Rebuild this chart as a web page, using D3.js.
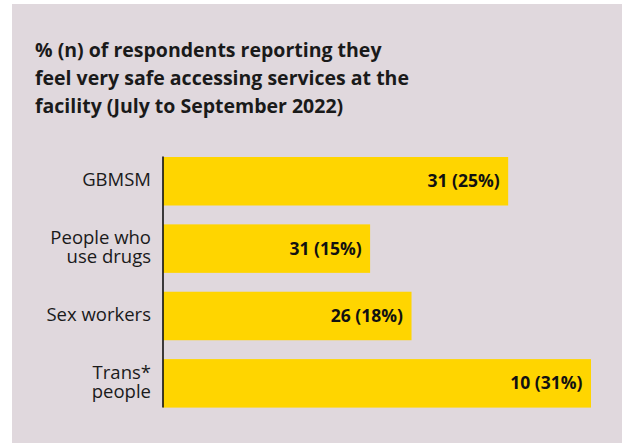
<!DOCTYPE html>
<html>
<head>
<meta charset="utf-8">
<script src="https://cdn.jsdelivr.net/npm/d3@7"></script>
<style>
  html, body { margin: 0; padding: 0; background: #ffffff; }
  svg { display: block; }
</style>
</head>
<body>
<svg id="chart" width="622" height="443"></svg>
<script>
// Respondent groups and results
const categories = ["GBMSM", "People who\nuse drugs", "Sex workers", "Trans*\npeople"];
const counts = [31, 31, 26, 10];
const percents = [25, 15, 18, 31];
const titleLines = [
  "% (n) of respondents reporting they",
  "feel very safe accessing services at the",
  "facility (July to September 2022)"
];

const W = 622, H = 443;
const svg = d3.select("#chart");
const FONT = "'Open Sans', 'Noto Sans', sans-serif";

// Panel background
svg.append("rect")
  .attr("x", 12).attr("y", 4)
  .attr("width", W - 12).attr("height", H - 4)
  .attr("fill", "#e0d8dd");

// Title
svg.append("text")
  .attr("font-family", FONT)
  .attr("font-weight", 700)
  .attr("font-size", 19.5)
  .attr("fill", "#1a1a1a")
  .selectAll("tspan")
  .data(titleLines)
  .join("tspan")
  .attr("x", 35)
  .attr("y", (d, i) => 56.5 + i * 28)
  .text(d => d);

const data = categories.map((c, i) => ({ cat: c, n: counts[i], pct: percents[i] }));

const x = d3.scaleLinear().domain([0, 31]).range([163, 591]);
const y = d3.scaleBand()
  .domain(categories)
  .range([157, 407.6])
  .paddingInner(0.28)
  .paddingOuter(0);

// Bars
svg.append("g")
  .selectAll("rect")
  .data(data)
  .join("rect")
  .attr("x", x(0))
  .attr("y", d => y(d.cat))
  .attr("width", d => x(d.pct) - x(0))
  .attr("height", y.bandwidth())
  .attr("fill", "#ffd500");

// Value labels inside bar ends
svg.append("g")
  .selectAll("text")
  .data(data)
  .join("text")
  .attr("x", d => x(d.pct) - 8.5)
  .attr("y", d => y(d.cat) + y.bandwidth() / 2 + 6)
  .attr("text-anchor", "end")
  .attr("font-family", FONT)
  .attr("font-weight", 700)
  .attr("font-size", 17.5)
  .attr("fill", "#111")
  .text(d => `${d.n} (${d.pct}%)`);

// Category axis
const axis = svg.append("g")
  .attr("transform", `translate(${x(0)},0)`)
  .call(d3.axisLeft(y).tickSize(0).tickFormat(""));
axis.select(".domain")
  .attr("d", `M0,${y(categories[0]) - 0.5}V${y(categories[3]) + y.bandwidth()}`)
  .attr("stroke", "#111")
  .attr("stroke-width", 1.6);

// Category labels, possibly two lines
axis.selectAll(".tick").each(function(d) {
  const lines = d.split("\n");
  const t = d3.select(this).append("text")
    .attr("text-anchor", "end")
    .attr("font-family", FONT)
    .attr("font-size", 18.5)
    .attr("fill", "#1a1a1a");
  const lh = 19.4;
  lines.forEach((ln, i) => {
    t.append("tspan")
      .attr("x", -12)
      .attr("y", (i - (lines.length - 1) / 2) * lh + 5)
      .text(ln);
  });
});
</script>
</body>
</html>
